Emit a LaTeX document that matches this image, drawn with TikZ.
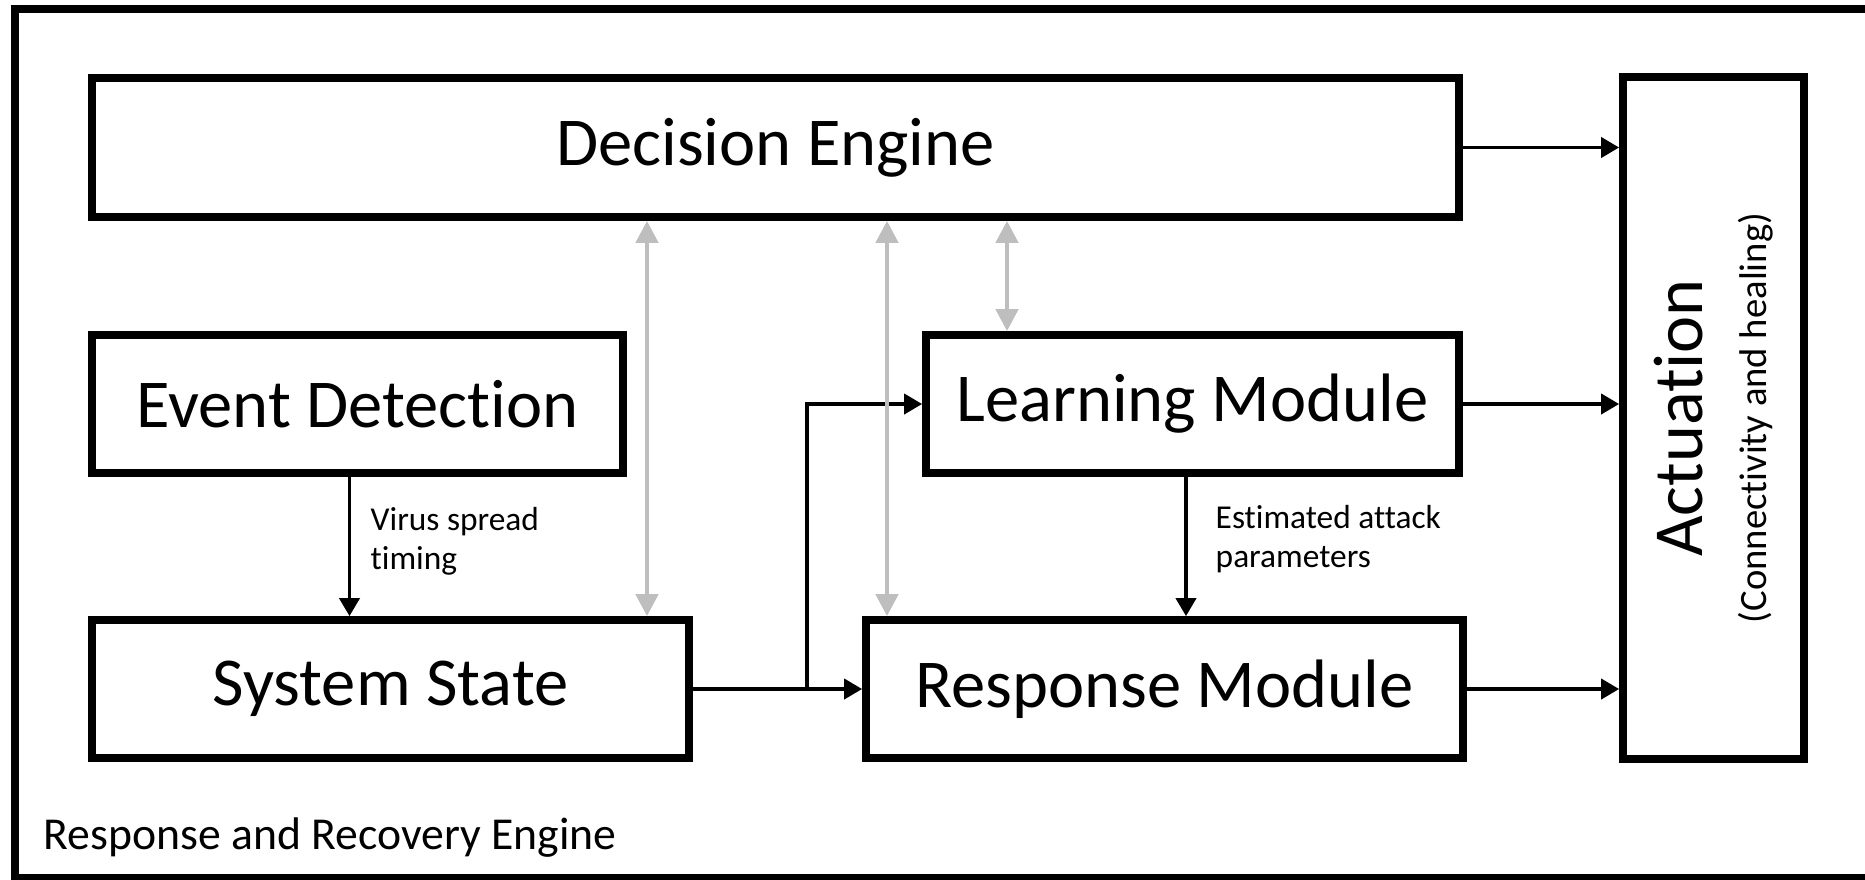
\documentclass[tikz,border=0pt]{standalone}
\usepackage{fontspec}
\setmainfont{Carlito}[Ligatures=NoCommon]
\usepackage{tikz}
\usetikzlibrary{arrows.meta,positioning,calc}
\definecolor{softgray}{RGB}{190,190,190}
\tikzset{
  blk/.style={draw=black,line width=2.2pt,inner sep=0pt,font=\fontsize{19.5}{23}\selectfont},
  flow/.style={-{Triangle[length=1.8mm,width=2.0mm]},line width=1.1pt},
  duplex/.style={{Triangle[length=2.2mm,width=2.2mm]}-{Triangle[length=2.2mm,width=2.2mm]},line width=1.3pt,draw=softgray}
}

\begin{document}
\begin{tikzpicture}[
  frame/.style={draw=black,line width=2.2pt},
  note/.style={font=\fontsize{9.5}{11}\selectfont,align=left,inner sep=0pt},
  tag/.style={font=\fontsize{13}{15}\selectfont,inner sep=0pt}
]
\useasboundingbox (0,0) rectangle (18.65,8.79);

% outer engine frame
\draw[frame] (0.15,0.01) rectangle (18.75,8.70);
\node[tag,anchor=base west] (rre) at (0.43,0.30) {Response and Recovery Engine};

% blocks
\node[blk,minimum width=13.67cm,minimum height=1.39cm] (dec) at (7.755,7.315) {Decision Engine};
\node[blk,minimum width=1.81cm,minimum height=6.82cm] (act) at (17.135,4.61) {};
\node[rotate=90,align=center,inner sep=0pt,font=\fontsize{11}{18}\selectfont] (acttxt) at (act.center)
  {{\fontsize{20}{18}\selectfont Actuation}\\(Connectivity and healing)};

\node[blk,minimum width=5.31cm,minimum height=1.38cm] (ev) at (3.575,4.75) {Event Detection};
\node[blk,minimum width=5.33cm,minimum height=1.38cm] (lm) at (11.925,4.75) {Learning Module};
\node[blk,minimum width=5.97cm,minimum height=1.38cm] (ss) at (3.905,1.90) {System State};
\node[blk,minimum width=5.97cm,minimum height=1.38cm] (rm) at (11.645,1.90) {Response Module};

% black flows
\draw[flow] (dec.east) -- (dec.east -| act.west);
\draw[flow] (lm.east) -- (lm.east -| act.west);
\draw[flow] (rm.east) -- (rm.east -| act.west);
\coordinate (evd) at ([xshift=-0.08cm]ev.south);
\draw[flow] (evd) -- (evd |- ss.north);
\coordinate (lmd) at ([xshift=-0.065cm]lm.south);
\draw[flow] (lmd) -- (lmd |- rm.north);
\draw[flow] (ss.east) -- (rm.west);
\coordinate (jn) at (8.07,1.90);
\draw[flow] (jn) |- (lm.west);

\node[note,anchor=north west] (vlab) at (3.70,3.72) {Virus spread\\timing};
\node[note,anchor=north west] (elab) at (12.15,3.74) {Estimated attack\\parameters};

% grey links to the decision engine
\coordinate (g1) at ([xshift=2.565cm]ss.north);
\coordinate (g2) at ([xshift=-2.775cm]rm.north);
\coordinate (g3) at ([xshift=-1.855cm]lm.north);
\draw[duplex] (g1) -- (g1 |- dec.south);
\draw[duplex] (g2) -- (g2 |- dec.south);
\draw[duplex] (g3) -- (g3 |- dec.south);
\end{tikzpicture}
\end{document}
